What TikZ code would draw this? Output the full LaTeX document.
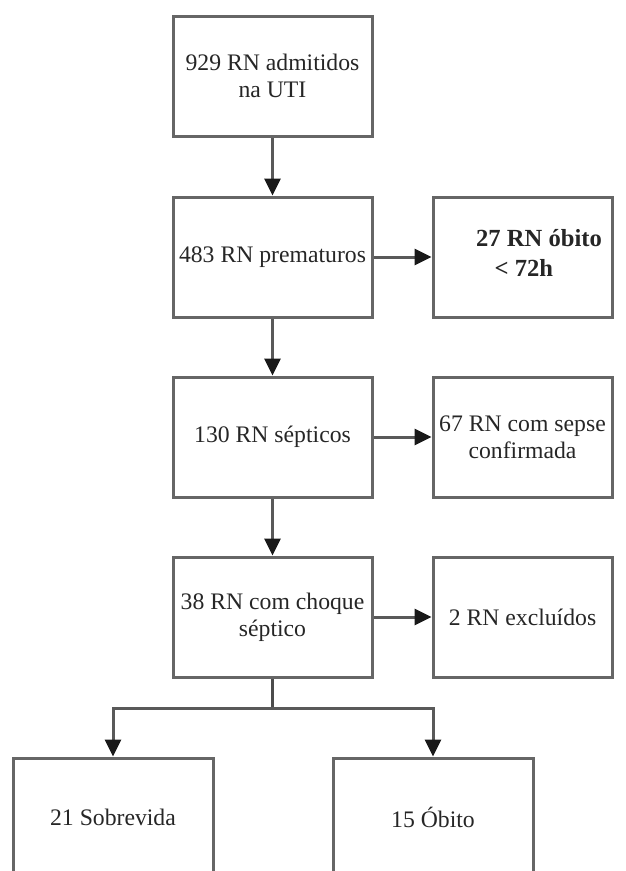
\documentclass[tikz,border=0pt]{standalone}
\usepackage{fontspec}
\setmainfont{Liberation Serif}
\newfontfamily\boxfont{Liberation Serif}
\usetikzlibrary{arrows.meta}
\begin{document}
\begin{tikzpicture}[x=1pt,y=-1pt,
  box/.style={draw=black!60, line width=3pt, inner sep=0pt, align=center,
    font=\boxfont\fontsize{23.7}{27}\selectfont, text=black!85},
  conn/.style={draw=black!65, line width=3pt, -{Triangle[length=17pt,width=16pt,color=black!90,fill=black!90]}},
  plain/.style={draw=black!70, line width=3pt}]
\useasboundingbox (0,0) rectangle (626,871);
\clip (0,0) rectangle (626,871);
\node[box, minimum width=199pt, minimum height=120pt] (n1) at (272.5,76) {929 RN admitidos\\na UTI};
\node[box, minimum width=199pt, minimum height=120pt] (n2) at (272.5,257) {483 RN prematuros};
\node[box, minimum width=179pt, minimum height=120pt] (r2) at (522.5,257) {};
\node[font=\boxfont\bfseries\fontsize{24.6}{30}\selectfont, text=black!85, align=left] (t2) at (539,253) {27 RN óbito\\\hspace{0.75em}< 72h};
\node[box, minimum width=199pt, minimum height=120pt] (n3) at (272.5,437) {130 RN sépticos};
\node[box, minimum width=179pt, minimum height=120pt] (r3) at (522.5,437) {67 RN com sepse\\confirmada};
\node[box, minimum width=199pt, minimum height=120pt] (n4) at (272.5,617) {38 RN com choque\\séptico};
\node[box, minimum width=179pt, minimum height=120pt] (r4) at (522.5,617) {2 RN excluídos};
\node[box, minimum width=200pt, minimum height=118pt] (b1) at (113,817) {21 Sobrevida};
\node[box, minimum width=200pt, minimum height=118pt] (b2) at (433,817) {15 Óbito};
\coordinate (j) at (272.5,708);
\draw[conn] (n1) -- (n2);
\draw[conn] (n2) -- (n3);
\draw[conn] (n3) -- (n4);
\draw[conn] (n2.east) -- (r2.west);
\draw[conn] (n3.east) -- (r3.west);
\draw[conn] (n4.east) -- (r4.west);
\draw[plain] (n4.south) -- (j);
\draw[conn] (j) -| (b1.north);
\draw[conn] (j) -| (b2.north);
\end{tikzpicture}
\end{document}
